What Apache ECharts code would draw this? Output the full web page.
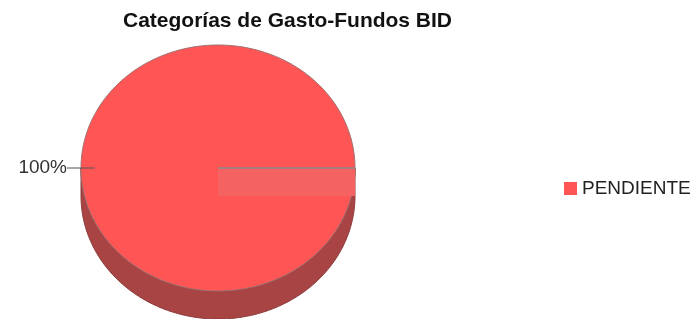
<!DOCTYPE html>
<html><head><meta charset="utf-8">
<script src="https://cdn.jsdelivr.net/npm/echarts@6/dist/echarts.min.js"></script>
<style>html,body{margin:0;padding:0;background:#fff}#c{width:696px;height:319px}</style>
</head><body><div id="c"></div>
<script>
const titleText = 'Categorías de Gasto-Fundos BID';
const categories = ['PENDIENTE'];
const values = [100];
const colors = ['#ff5555'];
const sideColors = ['#a94444'];

const FONT = '"Liberation Sans", Arial, sans-serif';
const total = values.reduce((a, b) => a + b, 0);
const CX = 218, CY = 168, RX = 137, RY = 123, DEPTH = 28;

function arcPts(a0, a1, dy) {
  const n = Math.max(2, Math.ceil(Math.abs(a1 - a0) / 0.02));
  const pts = [];
  for (let k = 0; k <= n; k++) {
    const a = a0 + (a1 - a0) * k / n;
    pts.push([CX + RX * Math.cos(a), CY + dy + RY * Math.sin(a)]);
  }
  return pts;
}

function makeRender(i) {
  return function (params, api) {
    const before = values.slice(0, i).reduce((a, b) => a + b, 0);
    const v = api.value(0);
    const s = before / total * Math.PI * 2;
    const e = s + v / total * Math.PI * 2;
    const full = v >= total;
    const children = [];
    // side (front half only)
    const fs = Math.max(s, 0), fe = Math.min(e, Math.PI);
    if (fe > fs) {
      const top = arcPts(fs, fe, 0);
      const bot = arcPts(fs, fe, DEPTH).reverse();
      children.push({ type: 'polygon', shape: { points: top.concat(bot) },
        style: { fill: sideColors[i], stroke: '#8c3a3a', lineWidth: 1 } });
    }
    // top face
    const topPts = full ? arcPts(0, Math.PI * 2, 0) : [[CX, CY]].concat(arcPts(s, e, 0));
    children.push({ type: 'polygon', shape: { points: topPts },
      style: { fill: colors[i], stroke: '#a07070', lineWidth: 1 } });
    // start-edge face
    const ex = CX + RX * Math.cos(s), ey = CY + RY * Math.sin(s);
    children.push({ type: 'polygon', shape: { points: [[CX, CY], [ex, ey], [ex, ey + DEPTH], [CX, CY + DEPTH]] },
      style: { fill: '#f56262' } });
    children.push({ type: 'line', shape: { x1: CX, y1: CY, x2: ex, y2: ey },
      style: { stroke: '#8a8a8a', lineWidth: 1.5 } });
    // label
    const m = (s + e) / 2;
    const lx0 = CX + 0.9 * RX * Math.cos(m), ly = CY + 0.9 * RY * Math.sin(m);
    const lx1 = CX + (RX + 14) * Math.cos(m);
    children.push({ type: 'line', shape: { x1: lx0, y1: ly, x2: lx1, y2: ly },
      style: { stroke: '#555', lineWidth: 1 } });
    const pct = Math.round(v / total * 100) + '%';
    children.push({ type: 'text', style: { x: lx1, y: ly, text: pct, align: Math.cos(m) < 0 ? 'right' : 'left',
      verticalAlign: 'middle', fontSize: 19, fontFamily: FONT, fill: '#333' } });
    return { type: 'group', children };
  };
}

const chart = echarts.init(document.getElementById('c'), null, { renderer: 'canvas' });
chart.setOption({
  animation: false,
  title: { text: titleText, left: 123, top: 11, padding: 0,
    textStyle: { fontSize: 21, fontWeight: 'bold', fontFamily: FONT, color: '#111' } },
  legend: { data: categories, left: 564, top: 179, orient: 'vertical', icon: 'rect',
    itemWidth: 13, itemHeight: 13, padding: 0,
    textStyle: { fontSize: 19, fontFamily: FONT, color: '#222' } },
  series: categories.map((name, i) => ({
    type: 'custom', name, coordinateSystem: 'none', silent: true,
    itemStyle: { color: colors[i] },
    data: [values[i]], renderItem: makeRender(i)
  }))
});
</script></body></html>
